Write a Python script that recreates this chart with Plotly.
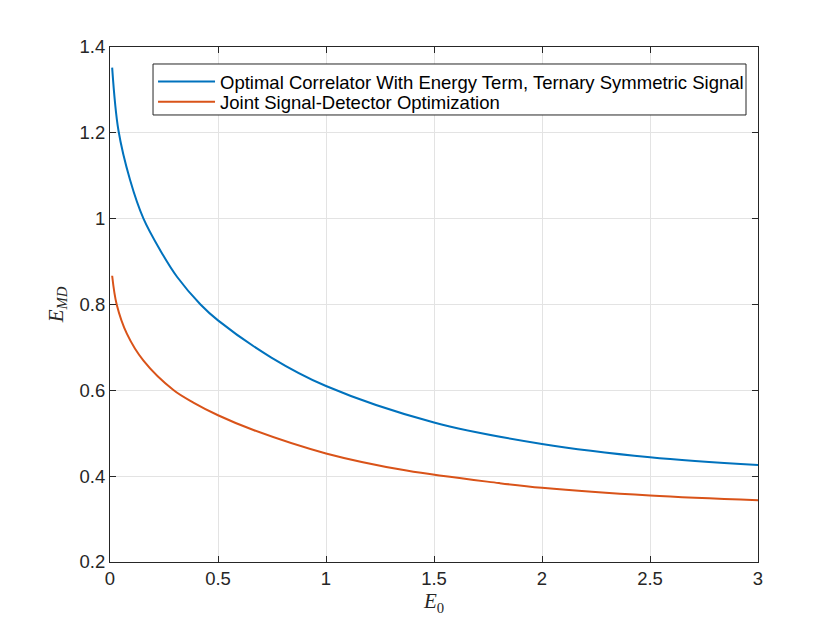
import plotly.graph_objects as go

# Data
e0_blue = [0.01, 0.039, 0.093, 0.155, 0.233, 0.311, 0.419, 0.5, 0.745, 1.0, 1.5, 2.0, 2.5, 3.0]
emd_blue = [1.352, 1.206, 1.09, 1.0, 0.926, 0.864, 0.8, 0.763, 0.677, 0.61, 0.525, 0.475, 0.444, 0.426]

e0_orange = [0.01, 0.031, 0.078, 0.155, 0.295, 0.388, 0.5, 0.667, 1.0, 1.373, 1.8, 2.0, 2.5, 3.0]
emd_orange = [0.867, 0.8, 0.732, 0.669, 0.60, 0.571, 0.542, 0.507, 0.453, 0.413, 0.384, 0.373, 0.355, 0.344]

names = ["Optimal Correlator With Energy Term, Ternary Symmetric Signal",
         "Joint Signal-Detector Optimization"]
colors = ["#0072BD", "#D95319"]

x_ticks = [0, 0.5, 1, 1.5, 2, 2.5, 3]
y_ticks = [0.2, 0.4, 0.6, 0.8, 1.0, 1.2, 1.4]

fig = go.Figure()
fig.add_trace(go.Scatter(x=e0_blue, y=emd_blue, mode="lines", name=names[0], legend="legend",
                         line=dict(color=colors[0], width=2, shape="spline", smoothing=1.0)))
fig.add_trace(go.Scatter(x=e0_orange, y=emd_orange, mode="lines", name=names[1], legend="legend2",
                         line=dict(color=colors[1], width=2, shape="spline", smoothing=1.0)))

axis_common = dict(
    showline=True, linecolor="#262626", linewidth=1, mirror="ticks",
    ticks="inside", ticklen=6, tickcolor="#262626",
    showgrid=True, gridcolor="#e3e3e3", gridwidth=1,
    zeroline=False,
    tickfont=dict(family="Liberation Sans, Arial, sans-serif", size=18.5, color="#262626"),
)

legend_font = dict(family="Liberation Sans, Arial, sans-serif", size=18.5, color="black")
legend_common = dict(xanchor="left", yanchor="middle", bgcolor="rgba(0,0,0,0)",
                     borderwidth=0, font=legend_font, itemwidth=57)

fig.update_layout(
    width=840, height=630,
    paper_bgcolor="white", plot_bgcolor="white",
    margin=dict(l=102, r=90, t=39, b=76),
    showlegend=True,
    legend=dict(x=0.0664, y=0.932, **legend_common),
    legend2=dict(x=0.0664, y=0.893, **legend_common),
    shapes=[dict(type="rect", xref="paper", yref="paper",
                 x0=0.0664, x1=0.9815, y0=0.868, y1=0.967,
                 line=dict(color="#262626", width=1), fillcolor="white", layer="above")],
    xaxis=dict(range=[0, 3], tickvals=x_ticks, ticktext=[f"{v:g}" for v in x_ticks],
               title=dict(text="<i>E</i><sub>0</sub>", standoff=4,
                          font=dict(family="Liberation Serif, DejaVu Serif, serif", size=21, color="#262626")),
               **axis_common),
    yaxis=dict(range=[0.2, 1.4], tickvals=y_ticks, ticktext=[f"{v:g}" for v in y_ticks],
               title=dict(text="<i>E</i><sub><i>MD</i></sub>", standoff=10,
                          font=dict(family="Liberation Serif, DejaVu Serif, serif", size=21, color="#262626")),
               **axis_common),
)

fig.write_html("out.html")
